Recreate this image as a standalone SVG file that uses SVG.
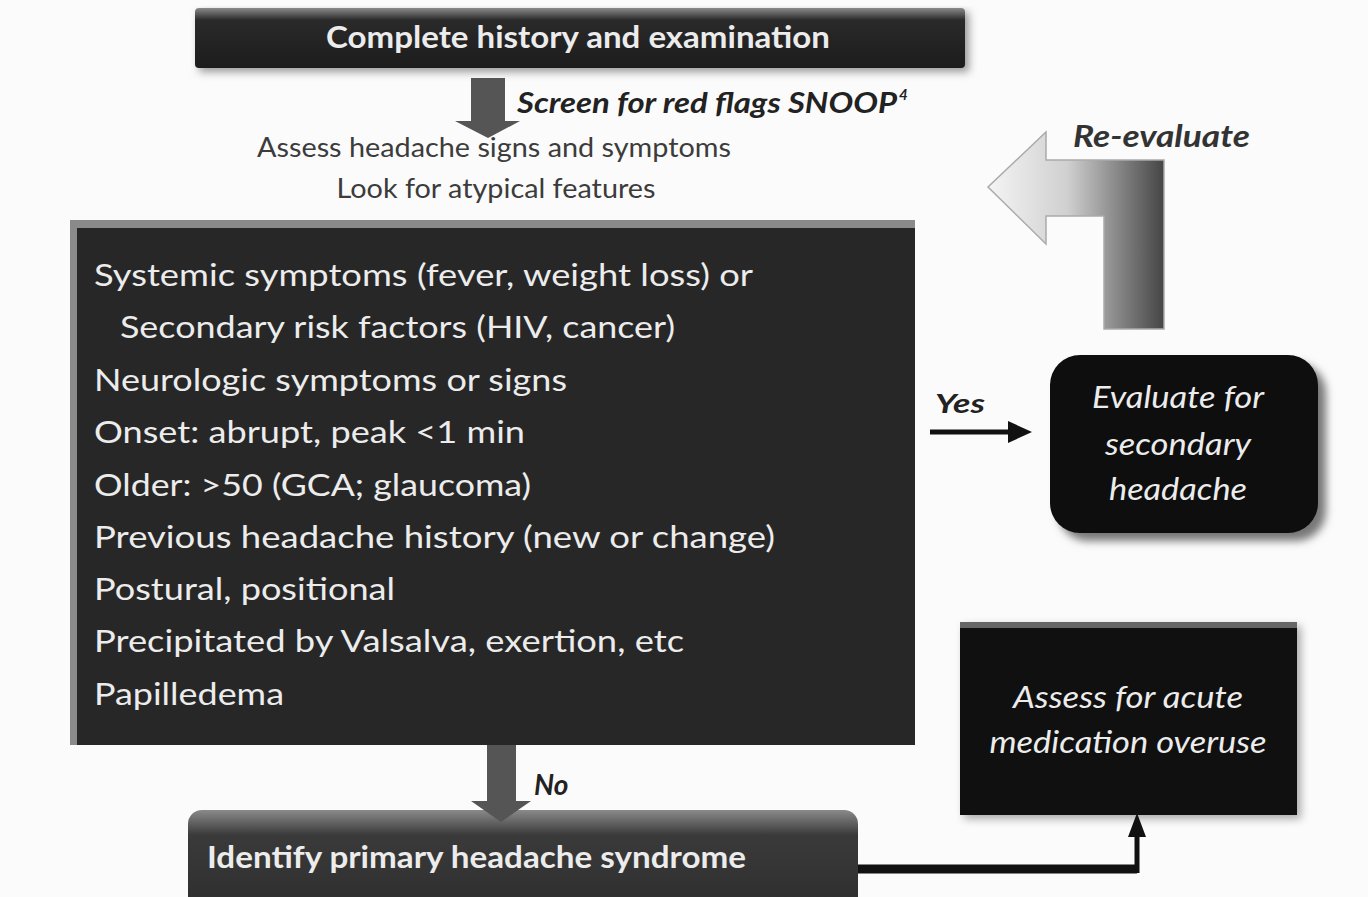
<svg xmlns="http://www.w3.org/2000/svg" width="1368" height="897" viewBox="0 0 1368 897">
<style>
.t{font-family:Lato,"Open Sans","Liberation Sans",sans-serif;}
.w{fill:#ececec;}
.big{font-size:31px;}
.bi{font-weight:bold;font-style:italic;}
.it{font-style:italic;}
.gray{fill:#3c3c3c;font-size:26px;}
</style>
<defs>
<linearGradient id="topg" x1="0" y1="0" x2="0" y2="1">
<stop offset="0" stop-color="#8a8a8a"/><stop offset="0.2" stop-color="#2a2a2a"/><stop offset="1" stop-color="#1c1c1c"/>
</linearGradient>
<linearGradient id="botg" x1="0" y1="0" x2="0" y2="1">
<stop offset="0" stop-color="#8a8a8a"/><stop offset="0.25" stop-color="#3a3a3a"/><stop offset="1" stop-color="#2e2e2e"/>
</linearGradient>
<linearGradient id="reg" x1="0" y1="0" x2="1" y2="0">
<stop offset="0" stop-color="#f4f4f4"/><stop offset="0.45" stop-color="#d0d0d0"/><stop offset="1" stop-color="#454545"/>
</linearGradient>
<filter id="sh" x="-10%" y="-10%" width="130%" height="130%">
<feGaussianBlur stdDeviation="4"/>
</filter>
<marker id="ah" viewBox="0 0 10 10" refX="9" refY="5" markerWidth="4" markerHeight="4" orient="auto">
<path d="M0,0 L10,5 L0,10 z" fill="#111"/>
</marker>
</defs>
<rect width="1368" height="897" fill="#fbfbfb"/>

<g id="node-complete-history">
<rect x="199" y="12" width="770" height="60" fill="#999" filter="url(#sh)"/>
<rect x="195" y="8" width="770" height="60" rx="4" fill="url(#topg)"/>
<text class="t w" x="578" y="48" font-size="30" font-weight="bold" text-anchor="middle" textLength="504" lengthAdjust="spacingAndGlyphs">Complete history and examination</text>
</g>

<g id="node-screen-text">
<text class="t bi" x="517" y="113" font-size="29" fill="#222" textLength="380" lengthAdjust="spacingAndGlyphs">Screen for red flags SNOOP</text>
<text class="t bi" x="899" y="100" font-size="15" fill="#222">4</text>
<text class="t gray" x="494" y="157" text-anchor="middle" textLength="474" lengthAdjust="spacingAndGlyphs">Assess headache signs and symptoms</text>
<text class="t gray" x="496" y="198" text-anchor="middle" textLength="319" lengthAdjust="spacingAndGlyphs">Look for atypical features</text>
</g>

<g id="node-red-flags">
<rect x="70" y="220" width="845" height="525" fill="#8a8a8a"/>
<rect x="77" y="228" width="838" height="517" fill="#272727"/>
<g class="t w big">
<text x="94" y="286" textLength="659" lengthAdjust="spacingAndGlyphs">Systemic symptoms (fever, weight loss) or</text>
<text x="120" y="338" textLength="555" lengthAdjust="spacingAndGlyphs">Secondary risk factors (HIV, cancer)</text>
<text x="94" y="391" textLength="473" lengthAdjust="spacingAndGlyphs">Neurologic symptoms or signs</text>
<text x="94" y="443" textLength="431" lengthAdjust="spacingAndGlyphs">Onset: abrupt, peak &lt;1 min</text>
<text x="94" y="496" textLength="437" lengthAdjust="spacingAndGlyphs">Older: &gt;50 (GCA; glaucoma)</text>
<text x="94" y="548" textLength="681" lengthAdjust="spacingAndGlyphs">Previous headache history (new or change)</text>
<text x="94" y="600" textLength="301" lengthAdjust="spacingAndGlyphs">Postural, positional</text>
<text x="94" y="652" textLength="590" lengthAdjust="spacingAndGlyphs">Precipitated by Valsalva, exertion, etc</text>
<text x="94" y="705" textLength="190" lengthAdjust="spacingAndGlyphs">Papilledema</text>
</g>
</g>

<g id="node-evaluate-secondary">
<rect x="1058" y="363" width="268" height="178" rx="30" fill="#777" filter="url(#sh)"/>
<rect x="1050" y="355" width="268" height="178" rx="30" fill="#0e0e0e"/>
<g class="t w it" font-size="30" text-anchor="middle">
<text x="1178" y="408" textLength="172" lengthAdjust="spacingAndGlyphs">Evaluate for</text>
<text x="1178" y="455" textLength="146" lengthAdjust="spacingAndGlyphs">secondary</text>
<text x="1178" y="500" textLength="138" lengthAdjust="spacingAndGlyphs">headache</text>
</g>
</g>

<g id="node-assess-overuse">
<rect x="964" y="626" width="337" height="193" fill="#aaa" filter="url(#sh)"/>
<rect x="960" y="622" width="337" height="193" fill="#101010"/>
<rect x="960" y="622" width="337" height="6" fill="#666"/>
<g class="t w it" font-size="30" text-anchor="middle">
<text x="1128" y="708" textLength="230" lengthAdjust="spacingAndGlyphs">Assess for acute</text>
<text x="1128" y="753" textLength="277" lengthAdjust="spacingAndGlyphs">medication overuse</text>
</g>
</g>

<g id="node-identify-primary">
<rect x="188" y="810" width="670" height="100" rx="14" fill="url(#botg)"/>
<text class="t w" x="207" y="868" font-size="30" font-weight="bold" textLength="539" lengthAdjust="spacingAndGlyphs">Identify primary headache syndrome</text>
</g>

<g id="connectors">
<path d="M471,78 H505 V121 H520 L488,138 L455,121 H471 Z" fill="#555"/>
<path d="M487,745 H516 V801 H531 L501,822 L471,801 H487 Z" fill="#555"/>
<text class="t bi" x="534" y="795" font-size="28" fill="#222">No</text>
<line x1="930" y1="432" x2="1012" y2="432" stroke="#111" stroke-width="5"/>
<path d="M1008,421 L1032,432 L1008,443 Z" fill="#111"/>
<text class="t bi" x="935" y="413" font-size="27" fill="#222" textLength="50" lengthAdjust="spacingAndGlyphs">Yes</text>
<path d="M858,869 H1137" stroke="#111" stroke-width="9" fill="none"/>
<path d="M1137,873 V833" stroke="#111" stroke-width="5" fill="none"/>
<path d="M1128,837 L1137,813 L1146,837 Z" fill="#111"/>
<path d="M1104,329 V216 H1046 V244 L988,187 L1046,132 V160 H1164 V329 Z" fill="url(#reg)" stroke="#aaa" stroke-width="1.5"/>
<text class="t bi" x="1073" y="147" font-size="30" fill="#333" textLength="177" lengthAdjust="spacingAndGlyphs">Re-evaluate</text>
</g>
</svg>
